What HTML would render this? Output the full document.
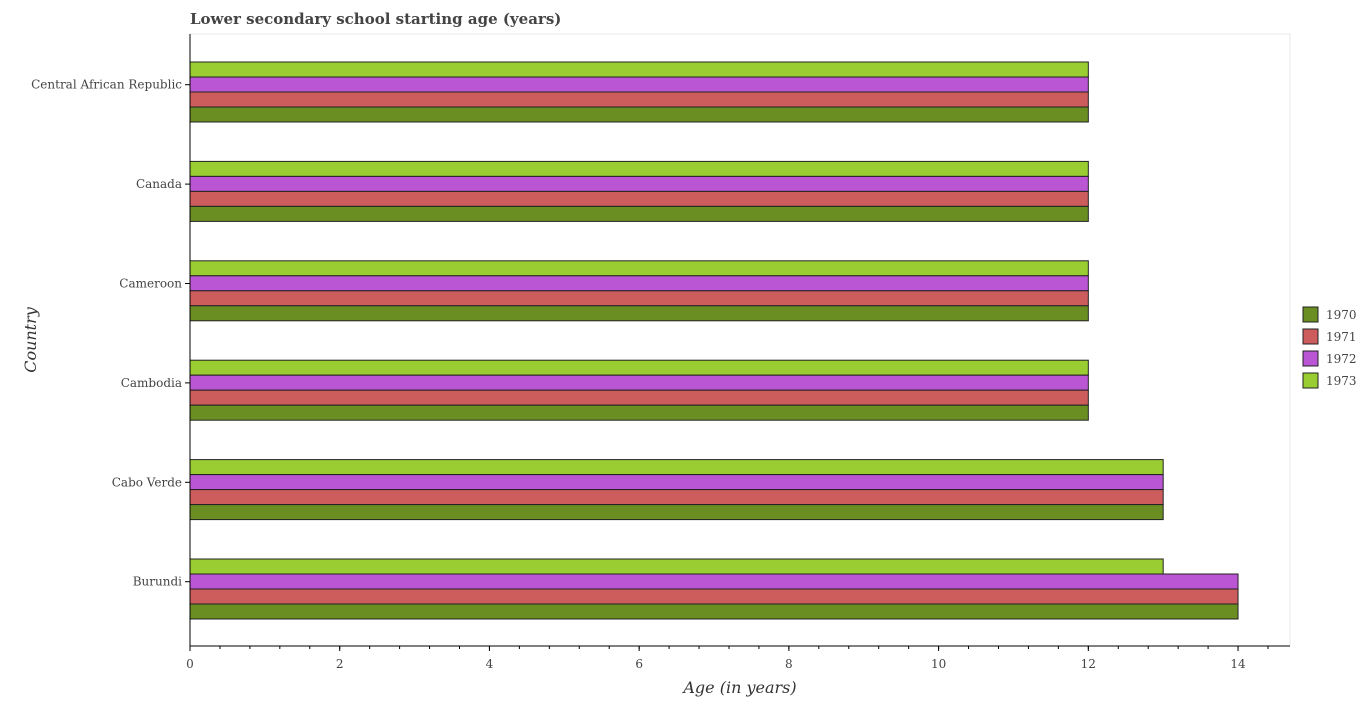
<!DOCTYPE html>
<html><head><meta charset="utf-8"><style>body{margin:0;background:#fff}text{font-family:"DejaVu Serif","Liberation Serif",serif}</style></head>
<body>
<svg id="chart" width="1363" height="700" xmlns="http://www.w3.org/2000/svg">
<text x="190" y="24" font-size="15" font-weight="bold" fill="#444">Lower secondary school starting age (years)</text>
<rect x="190" y="34" width="1100" height="612" fill="none" stroke="#e8e8e8"/>
<g id="bars"></g>
<g id="axes"></g>
<text x="740" y="693" font-size="16" font-style="italic" text-anchor="middle" fill="#333">Age (in years)</text>
<text x="0" y="0" font-size="16" font-style="italic" text-anchor="middle" fill="#333" transform="translate(36,340) rotate(-90)">Country</text>
<g id="legend"></g>
</svg>
<script>
const categories=["Burundi","Cabo Verde","Cambodia","Cameroon","Canada","Central African Republic"];
const s1970=[14,13,12,12,12,12];
const s1971=[14,13,12,12,12,12];
const s1972=[14,13,12,12,12,12];
const s1973=[13,13,12,12,12,12];
const seriesNames=["1970","1971","1972","1973"];
const xTicks=[0,2,4,6,8,10,12,14];
const colors=["#6b8e23","#cd5c5c","#ba55d3","#9acd32"];
const NS="http://www.w3.org/2000/svg";
const x0=190,unit=74.86,axisY=646;
const xs=v=>x0+v*unit;
const labelY=i=>581.7-99.4*i;
function el(t,a,p){const e=document.createElementNS(NS,t);for(const k in a)e.setAttribute(k,a[k]);p.appendChild(e);return e;}
const bars=document.getElementById('bars'),axes=document.getElementById('axes'),leg=document.getElementById('legend');
const data=[s1970,s1971,s1972,s1973];
categories.forEach((c,i)=>{
  const top=labelY(i)-22.7;
  for(let k=0;k<4;k++){
    const si=3-k;
    const r=el('rect',{x:x0,y:top+k*15,width:xs(data[si][i])-x0,height:15,fill:colors[si],stroke:"#222","stroke-width":1},bars);
    
    
  }
  el('line',{x1:x0-5,x2:x0,y1:labelY(i),y2:labelY(i),stroke:"#000"},axes);
  const t=el('text',{x:x0-8,y:labelY(i)+4,"font-size":12,"text-anchor":"end",fill:"#444"},axes);
  t.textContent=c;
  
  
});
el('line',{x1:x0,x2:x0,y1:34,y2:axisY,stroke:"#000"},axes);
el('line',{x1:x0,x2:1290,y1:axisY,y2:axisY,stroke:"#000"},axes);
for(let k=0;k<=40;k++){const x=xs(k*0.4);if(x>1290)break;el('line',{x1:x,x2:x,y1:axisY,y2:axisY+3,stroke:"#000"},axes);}
xTicks.forEach(v=>{
  el('line',{x1:xs(v),x2:xs(v),y1:axisY,y2:axisY+5,stroke:"#000"},axes);
  const t=el('text',{x:xs(v),y:axisY+22,"font-size":12,"text-anchor":"middle",fill:"#444"},axes);
  t.textContent=v;
  
  
});
seriesNames.forEach((n,i)=>{
  const y=307+i*22;
  const r=el('rect',{x:1303,y:y,width:15,height:15,fill:colors[i],stroke:"#222"},leg);
  
  
  const t=el('text',{x:1326,y:y+12,"font-size":12,fill:"#444"},leg);
  t.textContent=n;
  
  
});
</script>
</body></html>
